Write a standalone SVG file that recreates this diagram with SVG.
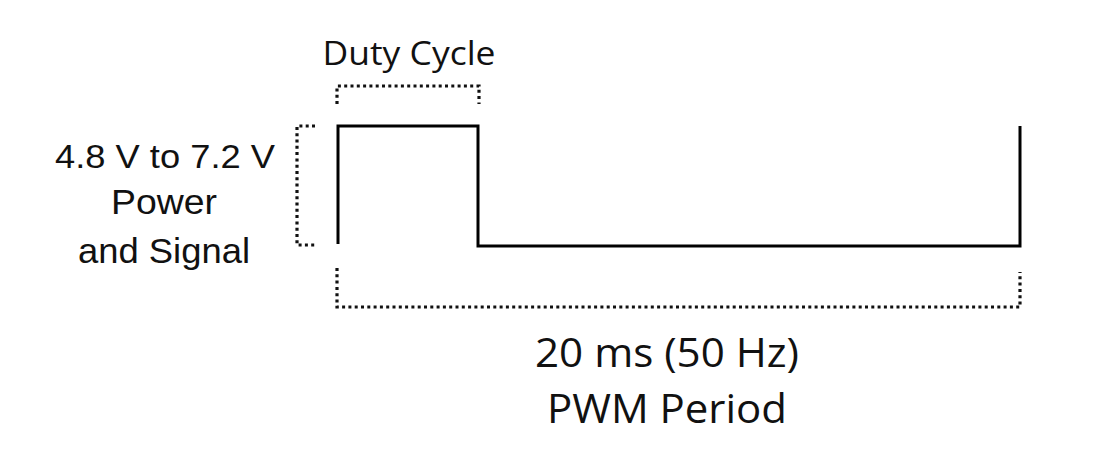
<svg xmlns="http://www.w3.org/2000/svg" width="1118" height="474" viewBox="0 0 1118 474">
<style>
.wave{fill:none;stroke:#000;stroke-width:3;stroke-linejoin:miter}
.dot{fill:none;stroke:#111;stroke-width:3.2;stroke-dasharray:3 3.3}
.myr{font-family:"Open Sans","Liberation Sans",sans-serif;fill:#111;text-anchor:middle}
.ari{font-family:"Liberation Sans",Arial,sans-serif;fill:#111;text-anchor:middle}
</style>
<rect width="1118" height="474" fill="#fff"/>
<g id="connectors">
<path id="waveform" class="wave" d="M338,244 V126 H478 V246 H1020 V126"/>
<path id="duty-bracket" class="dot" d="M337,104 V86 H479 V104"/>
<path id="voltage-bracket" class="dot" d="M315,126 H297 V245 H315"/>
<path id="period-bracket" class="dot" d="M337,268 V307 H1020 V272"/>
</g>
<g id="duty-label"><text class="myr" x="409" y="65" font-size="32" textLength="173" lengthAdjust="spacingAndGlyphs">Duty Cycle</text></g>
<g id="voltage-label">
<text class="ari" x="165" y="168" font-size="34" textLength="220" lengthAdjust="spacingAndGlyphs">4.8 V to 7.2 V</text>
<text class="ari" x="164" y="214" font-size="35" textLength="106" lengthAdjust="spacingAndGlyphs">Power</text>
<text class="ari" x="164" y="263" font-size="35" textLength="172" lengthAdjust="spacingAndGlyphs">and Signal</text>
</g>
<g id="period-label">
<text class="myr" x="667" y="367" font-size="40" textLength="264" lengthAdjust="spacingAndGlyphs">20 ms (50 Hz)</text>
<text class="myr" x="667" y="423" font-size="40" textLength="240" lengthAdjust="spacingAndGlyphs">PWM Period</text>
</g>
</svg>
